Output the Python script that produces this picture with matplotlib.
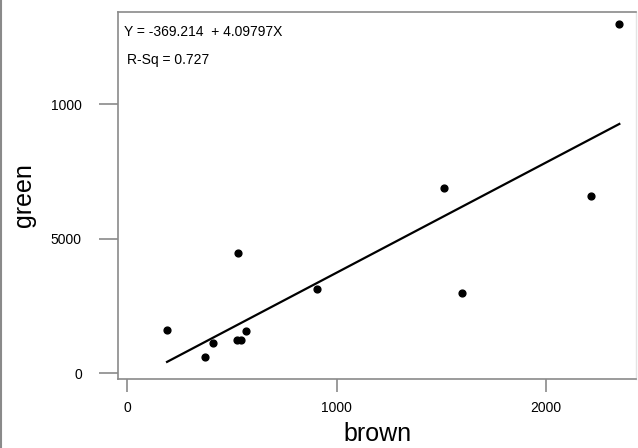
import numpy as np
from matplotlib import rc
import matplotlib.pyplot as plt
from matplotlib.lines import Line2D

# data
brown = [191, 372, 409, 525, 545, 569, 530, 908, 1598, 1513, 2213, 2350]
green = [1587, 595, 1127, 1227, 1227, 1550, 4472, 3123, 2985, 6864, 6568, 12960]

intercept = -369.214
slope = 4.09797
rsq = 0.727

xticks = [0, 1000, 2000]
yticks = [0, 5000, 10000]
ytick_labels = ['0', '5000', '1000']

rc('font', family = 'Liberation Sans', size = 10)
gray = '#8a8a8a'

fig = plt.figure(figsize = (6.38, 4.48), dpi = 100)
fig.subplots_adjust(left = 0.185, right = 0.997, top = 0.973, bottom = 0.154)
ax = plt.subplot(111)

plt.scatter(brown, green, s = 24, color = 'black', zorder = 3)

xs = np.array([min(brown), max(brown)], dtype = float)
plt.plot(xs, intercept + slope * xs, 'k-', lw = 1.6)

plt.xlim(-43, 2430)
plt.ylim(-223, 13420)
plt.xticks(xticks)
plt.yticks(yticks, ytick_labels)

for s in ['left', 'bottom', 'top']:
    ax.spines[s].set_color(gray)
    ax.spines[s].set_linewidth(1.2)
ax.spines['right'].set_color('#e4e4e4')
ax.spines['right'].set_linewidth(1.0)

ax.tick_params(axis = 'y', length = 14, width = 1.2, color = gray, pad = 12)
ax.tick_params(axis = 'x', length = 9, width = 1.2, color = gray, pad = 7)

plt.xlabel('brown', fontsize = 18, labelpad = 5)
plt.ylabel('green', fontsize = 18, labelpad = 11)

plt.text(0.012, 0.965, 'Y = %.3f  + %.5fX' % (intercept, slope), transform = ax.transAxes,
         fontsize = 10, va = 'top', ha = 'left')
plt.text(0.018, 0.888, 'R-Sq = %.3f' % rsq, transform = ax.transAxes,
         fontsize = 10, va = 'top', ha = 'left')

# grey frame at the left edge of the picture
fig.add_artist(Line2D([0.002, 0.002], [0.0, 1.0], color = gray, lw = 1.5, transform = fig.transFigure))

plt.savefig('out.png', dpi = 100)
